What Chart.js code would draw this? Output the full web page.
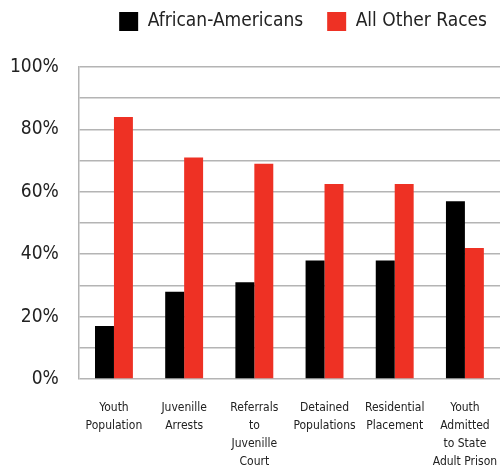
<!DOCTYPE html>
<html>
<head>
<meta charset="utf-8">
<script src="https://cdn.jsdelivr.net/npm/chart.js@4"></script>
<style>
  html, body { margin: 0; padding: 0; background: #fff; }
  #wrap { width: 500px; height: 471px; }
</style>
</head>
<body>
<div id="wrap"><canvas id="grafico"></canvas></div>
<script>
const categorias = [
  ["Youth", "Population"],
  ["Juvenille", "Arrests"],
  ["Referrals", "to", "Juvenille", "Court"],
  ["Detained", "Populations"],
  ["Residential", "Placement"],
  ["Youth", "Admitted", "to State", "Adult Prison"],
];
const africanAmericans = [17, 28, 31, 38, 38, 57];
const outrasRacas = [84, 71, 69, 62.5, 62.5, 42];
const ticksY = [0, 20, 40, 60, 80, 100];

const fonte = "'DejaVu Sans Condensed', 'Roboto', sans-serif";

// espaço extra abaixo da legenda e ajuste da margem direita
const ajusteLegenda = {
  id: "ajusteLegenda",
  beforeInit(chart) {
    const fitOriginal = chart.legend.fit;
    chart.legend.fit = function () {
      fitOriginal.bind(chart.legend)();
      this.height += 26;
    };
  },
  afterLayout(chart) {
    chart.legend.right += 11;
  },
};

// configuração do gráfico
const config = {
  type: "bar",
  data: {
    labels: categorias,
    datasets: [
      {
        label: "African-Americans",
        data: africanAmericans,
        backgroundColor: "#000000",
        barPercentage: 1,
        categoryPercentage: 0.54,
      },
      {
        label: "All Other Races",
        data: outrasRacas,
        backgroundColor: "#ee3124",
        barPercentage: 1,
        categoryPercentage: 0.54,
      },
    ],
  },
  plugins: [ajusteLegenda],
  options: {
    responsive: true,
    maintainAspectRatio: false,
    animation: false,
    layout: { padding: { left: -10, right: 0, top: -12, bottom: -12 } },
    plugins: {
      tooltip: { enabled: false },
      legend: {
        position: "top",
        align: "end",
        labels: {
          boxWidth: 19,
          boxHeight: 19,
          padding: 24,
          color: "#222",
          font: { family: fonte, size: 19 },
        },
      },
    },
    scales: {
      x: {
        grid: { display: false },
        border: { display: false },
        // o último rótulo pode passar da borda, como no original
        afterFit: function (escala) {
          escala.paddingRight = 0;
        },
        ticks: {
          color: "#222",
          font: { family: fonte, size: 12, lineHeight: 1.5 },
          padding: 12,
          maxRotation: 0,
          autoSkip: false,
        },
      },
      y: {
        min: 0,
        max: 100,
        grid: { color: "#b4b4b4", lineWidth: 1.5, drawTicks: false },
        border: { color: "#b4b4b4", width: 1.5 },
        ticks: {
          stepSize: 10,
          padding: 20,
          color: "#222",
          font: { family: fonte, size: 19 },
          callback: function (valor) {
            return ticksY.includes(valor) ? valor + "%" : "";
          },
        },
      },
    },
  },
};

new Chart(document.getElementById("grafico"), config);
</script>
</body>
</html>
